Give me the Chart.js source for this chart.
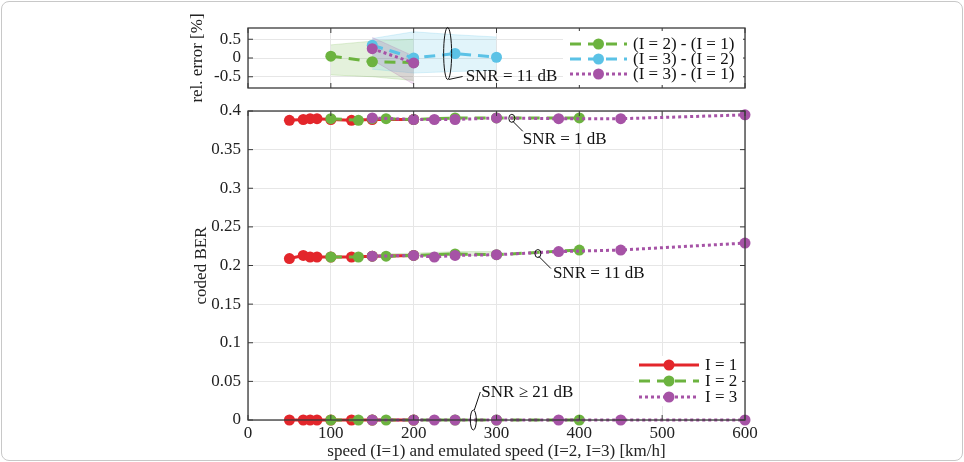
<!DOCTYPE html>
<html>
<head>
<meta charset="utf-8">
<script src="https://cdn.jsdelivr.net/npm/chart.js@4.4.1/dist/chart.umd.min.js"></script>
<style>
  body { margin: 0; background: #fff; }
  #frame { position: absolute; left: 1px; top: 1px; width: 960px; height: 458px; border: 1px solid #c8c8c8; border-radius: 8px; }
  canvas { position: absolute; left: 0; top: 0; }
</style>
</head>
<body>
<div id="frame"></div>
<canvas id="errChart" width="964" height="462"></canvas>
<canvas id="berChart" width="964" height="462"></canvas>
<script>
// speeds (km/h): measured for I=1, emulated for I=2 and I=3
const speedI1 = [50, 66.7, 75, 83.3, 100, 125, 150, 200];
const speedI2 = [100, 133.3, 150, 166.7, 200, 250, 300, 400];
const speedI3 = [150, 200, 225, 250, 300, 375, 450, 600];

// coded BER, SNR = 1 dB
const berI1_1dB = [0.388, 0.389, 0.390, 0.390, 0.389, 0.388, 0.389, 0.389];
const berI2_1dB = [0.390, 0.388, 0.390, 0.390, 0.389, 0.391, 0.391, 0.391];
const berI3_1dB = [0.391, 0.389, 0.389, 0.389, 0.391, 0.390, 0.390, 0.395];
// coded BER, SNR = 11 dB
const berI1_11dB = [0.209, 0.213, 0.211, 0.211, 0.211, 0.211, 0.212, 0.213];
const berI2_11dB = [0.211, 0.211, 0.212, 0.212, 0.213, 0.215, 0.214, 0.220];
const berI3_11dB = [0.212, 0.213, 0.211, 0.213, 0.214, 0.218, 0.220, 0.229];
// coded BER, SNR >= 21 dB
const berI1_21dB = [0, 0, 0, 0, 0, 0, 0, 0];
const berI2_21dB = [0, 0, 0, 0, 0, 0, 0, 0];
const berI3_21dB = [0, 0, 0, 0, 0, 0, 0, 0];
// light spread band around I=2 at 11 dB
const bandSpeed11 = [166.7, 200, 250, 300];
const bandUp11 = [0.215, 0.216, 0.218, 0.218];
const bandLo11 = [0.211, 0.212, 0.213, 0.213];

// relative error [%], SNR = 11 dB
const errSpeed21 = [100, 150, 200];
const err21 = [0.05, -0.10, -0.12];
const err21Up = [0.35, 0.45, 0.50];
const err21Lo = [-0.45, -0.50, -0.60];
const errSpeed32 = [150, 200, 250, 300];
const err32 = [0.34, 0.0, 0.12, 0.02];
const err32Up = [0.52, 0.70, 0.62, 0.56];
const err32Lo = [-0.30, -0.40, -0.36, -0.33];
const errSpeed31 = [150, 200];
const err31 = [0.25, -0.13];
const err31Up = [0.55, 0.05];
const err31Lo = [-0.05, -0.70];

const yTicksBer = [0, 0.05, 0.1, 0.15, 0.2, 0.25, 0.3, 0.35, 0.4];
const yTicksErr = [-0.5, 0, 0.5];
const xTicks = [0, 100, 200, 300, 400, 500, 600];

const RED = '#e3262b', GREEN = '#6cb33f', PURPLE = '#a653a6', CYAN = '#5bc2e6';
const FONT = { family: 'Liberation Serif', size: 17 };

function pts(xs, ys) { return xs.map((x, i) => ({ x: x, y: ys[i] })); }

function styleI(n) {
  if (n === 1) return { color: RED, dash: [], order: 3 };
  if (n === 2) return { color: GREEN, dash: [11, 7], order: 2 };
  return { color: PURPLE, dash: [3, 3], order: 1 };
}

function serie(n, xs, ys, r) {
  const s = styleI(n);
  return {
    data: pts(xs, ys), borderColor: s.color, backgroundColor: s.color,
    borderWidth: 3, borderDash: s.dash, pointRadius: r, pointBorderWidth: 0,
    pointBackgroundColor: s.color, order: s.order, fill: false, tension: 0
  };
}

function band(xs, up, lo, col, order) {
  return [
    { data: pts(xs, up), borderWidth: 0.6, borderColor: col.replace('0.18', '0.35'), pointRadius: 0, fill: '+1', backgroundColor: col, order: order },
    { data: pts(xs, lo), borderWidth: 0.6, borderColor: col.replace('0.18', '0.35'), pointRadius: 0, fill: false, order: order }
  ];
}

// box, inward ticks, callouts and legend
function boxPlugin(opts) {
  return {
    id: 'box' + opts.name,
    afterDraw(chart) {
      const ctx = chart.ctx, a = chart.chartArea;
      const xs = chart.scales.x, ys = chart.scales.y;
      ctx.save();
      ctx.strokeStyle = '#3a3a3a';
      ctx.lineWidth = 1.3;
      ctx.strokeRect(a.left, a.top, a.right - a.left, a.bottom - a.top);
      ctx.lineWidth = 1;
      xTicks.forEach(v => {
        const px = xs.getPixelForValue(v);
        ctx.beginPath(); ctx.moveTo(px, a.bottom); ctx.lineTo(px, a.bottom - 5);
        ctx.moveTo(px, a.top); ctx.lineTo(px, a.top + 5); ctx.stroke();
      });
      opts.yTicks.forEach(v => {
        const py = ys.getPixelForValue(v);
        ctx.beginPath(); ctx.moveTo(a.left, py); ctx.lineTo(a.left + 5, py);
        ctx.moveTo(a.right, py); ctx.lineTo(a.right - 5, py); ctx.stroke();
      });
      // callouts
      ctx.fillStyle = '#111';
      ctx.strokeStyle = '#111';
      ctx.font = '17px "Liberation Serif"';
      ctx.textBaseline = 'middle';
      opts.callouts.forEach(c => {
        const cx = xs.getPixelForValue(c.x), cy = ys.getPixelForValue(c.y);
        ctx.beginPath(); ctx.ellipse(cx, cy, c.rx, c.ry, 0, 0, Math.PI * 2); ctx.stroke();
        ctx.beginPath(); ctx.moveTo(cx + c.l[0], cy + c.l[1]); ctx.lineTo(cx + c.l[2], cy + c.l[3]); ctx.stroke();
        ctx.fillText(c.text, cx + c.t[0], cy + c.t[1]);
      });
      // legend
      const L = opts.legend;
      ctx.fillStyle = '#fff';
      ctx.fillRect(L.box[0], L.box[1], L.box[2], L.box[3]);
      L.items.forEach((it, i) => {
        const y = L.y0 + i * L.dy;
        ctx.strokeStyle = it.color; ctx.lineWidth = 3; ctx.setLineDash(it.dash);
        ctx.beginPath(); ctx.moveTo(L.x0, y); ctx.lineTo(L.x1, y); ctx.stroke();
        ctx.setLineDash([]);
        ctx.fillStyle = it.color;
        ctx.beginPath(); ctx.arc((L.x0 + L.x1) / 2, y, 5.5, 0, Math.PI * 2); ctx.fill();
        ctx.fillStyle = '#111';
        ctx.fillText(it.label, L.x1 + 6, y + 1);
      });
      ctx.restore();
    }
  };
}

const gridCol = '#e6e6e6';

// ---------- main chart: coded BER ----------
const berSets = [
  serie(1, speedI1, berI1_1dB, 5.5), serie(2, speedI2, berI2_1dB, 5.5), serie(3, speedI3, berI3_1dB, 5.5),
  serie(1, speedI1, berI1_11dB, 5.5), serie(2, speedI2, berI2_11dB, 5.5), serie(3, speedI3, berI3_11dB, 5.5),
  serie(1, speedI1, berI1_21dB, 5.5), serie(2, speedI2, berI2_21dB, 5.5), serie(3, speedI3, berI3_21dB, 5.5)
].concat(band(bandSpeed11, bandUp11, bandLo11, 'rgba(108,179,63,0.18)', 4));

new Chart(document.getElementById('berChart'), {
  type: 'line',
  data: { datasets: berSets },
  options: {
    responsive: false, animation: false, clip: false,
    layout: { padding: { left: 191, right: 219, top: 111, bottom: 0 } },
    plugins: { legend: { display: false }, tooltip: { enabled: false } },
    scales: {
      x: {
        type: 'linear', min: 0, max: 600,
        afterBuildTicks: s => { s.ticks = xTicks.map(v => ({ value: v })); },
        afterFit: s => { s.height = 42; },
        ticks: { font: FONT, color: '#222', padding: 3, maxRotation: 0 },
        grid: { color: gridCol, drawTicks: false }, border: { display: false },
        title: { display: true, text: 'speed (I=1) and emulated speed (I=2, I=3) [km/h]', font: FONT, color: '#222', padding: { top: 0, bottom: 0 } }
      },
      y: {
        type: 'linear', min: 0, max: 0.4,
        afterBuildTicks: s => { s.ticks = yTicksBer.map(v => ({ value: v })); },
        afterFit: s => { s.width = 57; },
        ticks: { font: FONT, color: '#222', padding: 7, callback: v => String(Number(v.toFixed(2))) },
        grid: { color: gridCol, drawTicks: false }, border: { display: false },
        title: { display: true, text: 'coded BER', font: FONT, color: '#222', padding: 0 }
      }
    }
  },
  plugins: [boxPlugin({
    name: 'ber', yTicks: yTicksBer,
    callouts: [
      { x: 318.5, y: 0.3905, rx: 3, ry: 4, text: 'SNR = 1 dB', l: [1, 3, 11, 13], t: [11, 21] },
      { x: 350, y: 0.2155, rx: 3, ry: 4, text: 'SNR = 11 dB', l: [1, 3, 13, 15], t: [15, 20] },
      { x: 272, y: 0, rx: 3, ry: 10, text: 'SNR \u2265 21 dB', l: [1, -10, 7, -28], t: [8, -27] }
    ],
    legend: {
      box: [634, 356, 108, 50], x0: 639, x1: 699, y0: 365, dy: 16,
      items: [
        { color: RED, dash: [], label: 'I = 1' },
        { color: GREEN, dash: [11, 7], label: 'I = 2' },
        { color: PURPLE, dash: [3, 3], label: 'I = 3' }
      ]
    }
  })]
});

// ---------- top chart: relative error ----------
const errSets = [
  Object.assign(serie(2, errSpeed21, err21, 5.5), { order: 3 }),
  Object.assign(serie(3, errSpeed32, err32, 5.5), { borderColor: CYAN, backgroundColor: CYAN, pointBackgroundColor: CYAN, borderDash: [11, 7], order: 2 }),
  Object.assign(serie(3, errSpeed31, err31, 5.5), { order: 1 })
].concat(
  band(errSpeed21, err21Up, err21Lo, 'rgba(108,179,63,0.18)', 6),
  band(errSpeed32, err32Up, err32Lo, 'rgba(91,194,230,0.18)', 5),
  band(errSpeed31, err31Up, err31Lo, 'rgba(166,83,166,0.18)', 4)
);

new Chart(document.getElementById('errChart'), {
  type: 'line',
  data: { datasets: errSets },
  options: {
    responsive: false, animation: false, clip: false,
    layout: { padding: { left: 187, right: 219, top: 28, bottom: 374 } },
    plugins: { legend: { display: false }, tooltip: { enabled: false } },
    scales: {
      x: {
        type: 'linear', min: 0, max: 600,
        afterBuildTicks: s => { s.ticks = xTicks.map(v => ({ value: v })); },
        afterFit: s => { s.height = 0; },
        ticks: { display: false },
        grid: { color: gridCol, drawTicks: false }, border: { display: false }
      },
      y: {
        type: 'linear', min: -0.8, max: 0.8,
        afterBuildTicks: s => { s.ticks = yTicksErr.map(v => ({ value: v })); },
        afterFit: s => { s.width = 61; },
        ticks: { font: FONT, color: '#222', padding: 7, callback: v => String(v) },
        grid: { color: gridCol, drawTicks: false }, border: { display: false },
        title: { display: true, text: 'rel. error [%]', font: FONT, color: '#222', padding: 0 }
      }
    }
  },
  plugins: [boxPlugin({
    name: 'err', yTicks: yTicksErr,
    callouts: [
      { x: 241, y: 0.12, rx: 4, ry: 26, text: 'SNR = 11 dB', l: [1, 26, 15, 23], t: [18, 23] }
    ],
    legend: {
      box: [563, 31, 180, 54], x0: 570, x1: 627, y0: 44, dy: 15,
      items: [
        { color: GREEN, dash: [11, 7], label: '(I = 2) - (I = 1)' },
        { color: CYAN, dash: [11, 7], label: '(I = 3) - (I = 2)' },
        { color: PURPLE, dash: [3, 3], label: '(I = 3) - (I = 1)' }
      ]
    }
  })]
});
</script>
</body>
</html>
